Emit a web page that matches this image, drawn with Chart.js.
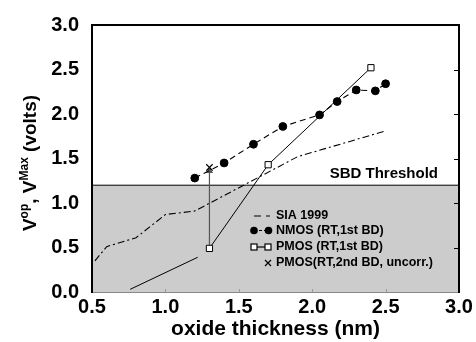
<!DOCTYPE html>
<html>
<head>
<meta charset="utf-8">
<script src="https://cdn.jsdelivr.net/npm/chart.js@4/dist/chart.umd.min.js"></script>
<style>
  html, body { margin: 0; padding: 0; background: #ffffff; }
  #c { display: block; }
</style>
</head>
<body>
<canvas id="c" width="476" height="342"></canvas>
<script>
// ---- data ----
const nmosX = [1.2, 1.4, 1.6, 1.8, 2.05, 2.17, 2.3, 2.43, 2.5];
const nmosY = [1.28, 1.45, 1.66, 1.86, 1.99, 2.14, 2.27, 2.26, 2.34];
const pmosX = [1.3, 1.7, 2.4];
const pmosY = [0.49, 1.43, 2.52];
const pmos2X = [1.3];
const pmos2Y = [1.40];
const siaX = [0.52, 0.6, 0.8, 1.0, 1.2, 1.9, 2.5];
const siaY = [0.35, 0.51, 0.61, 0.87, 0.91, 1.52, 1.81];
const segX = [0.76, 1.22];
const segY = [0.03, 0.39];
const arrowX = [1.3, 1.3];
const arrowY = [0.53, 1.36];
const threshold = 1.2;
const xRange = [0.5, 3.0];
const yRange = [0.0, 3.0];
const tickStep = 0.5;
const legendLabels = ['SIA 1999', 'NMOS (RT,1st BD)', 'PMOS (RT,1st BD)', 'PMOS(RT,2nd BD, uncorr.)'];
const xTitle = 'oxide thickness (nm)';
const thresholdLabel = 'SBD Threshold';

const pts = (xs, ys) => xs.map((x, i) => ({ x: x, y: ys[i] }));
const FONT = '"Liberation Sans", Arial, Helvetica, sans-serif';

const decor = {
  id: 'decor',
  afterDatasetsDraw(chart) {
    const ctx = chart.ctx;
    const ys = chart.scales.y;
    ctx.save();
    // threshold label
    ctx.fillStyle = '#000';
    ctx.font = 'bold 15px ' + FONT;
    ctx.textAlign = 'right';
    ctx.textBaseline = 'middle';
    ctx.fillText(thresholdLabel, 438, ys.getPixelForValue(threshold) - 11);

    // legend
    ctx.font = 'bold 12.5px ' + FONT;
    ctx.textAlign = 'left';
    const rows = [216, 230.5, 247, 263];
    const tx = 276;
    legendLabels.forEach((t, i) => ctx.fillText(t, tx, rows[i]));
    ctx.strokeStyle = '#000';
    ctx.lineWidth = 1.2;
    // SIA sample
    ctx.beginPath();
    ctx.moveTo(254, rows[0]); ctx.lineTo(261, rows[0]);
    ctx.moveTo(266, rows[0]); ctx.lineTo(270, rows[0]);
    ctx.stroke();
    // NMOS sample
    ctx.setLineDash([3, 2]);
    ctx.beginPath(); ctx.moveTo(254, rows[1]); ctx.lineTo(268.5, rows[1]); ctx.stroke();
    ctx.setLineDash([]);
    ctx.fillStyle = '#000';
    [254, 268.5].forEach(cx => { ctx.beginPath(); ctx.arc(cx, rows[1], 3.8, 0, Math.PI * 2); ctx.fill(); });
    // PMOS sample
    ctx.beginPath(); ctx.moveTo(254, rows[2]); ctx.lineTo(268, rows[2]); ctx.stroke();
    ctx.fillStyle = '#fff';
    [254, 268].forEach(cx => { ctx.fillRect(cx - 3, rows[2] - 3, 6, 6); ctx.strokeRect(cx - 3, rows[2] - 3, 6, 6); });
    // cross sample
    ctx.beginPath();
    ctx.moveTo(265, rows[3] - 3); ctx.lineTo(271, rows[3] + 3);
    ctx.moveTo(271, rows[3] - 3); ctx.lineTo(265, rows[3] + 3);
    ctx.stroke();
    ctx.restore();
  },
  afterDraw(chart) {
    const ctx = chart.ctx;
    const a = chart.chartArea;
    const xs = chart.scales.x, ys = chart.scales.y;
    ctx.save();
    // inward ticks
    ctx.strokeStyle = '#000';
    ctx.lineWidth = 1;
    for (let v = yRange[0] + tickStep; v < yRange[1] - 1e-9; v += tickStep) {
      const py = Math.round(ys.getPixelForValue(v)) + 0.5;
      ctx.beginPath(); ctx.moveTo(a.right, py); ctx.lineTo(a.right - 5, py); ctx.stroke();
    }
    ctx.strokeStyle = '#999';
    for (let v = xRange[0] + tickStep; v < xRange[1] - 1e-9; v += tickStep) {
      const px = Math.round(xs.getPixelForValue(v)) + 0.5;
      ctx.beginPath(); ctx.moveTo(px, a.bottom); ctx.lineTo(px, a.bottom - 3); ctx.stroke();
    }
    // frame
    ctx.strokeStyle = '#888';
    ctx.lineWidth = 1;
    ctx.beginPath(); ctx.moveTo(a.left, a.bottom + 0.5); ctx.lineTo(a.right, a.bottom + 0.5); ctx.stroke();
    ctx.strokeStyle = '#000';
    ctx.lineWidth = 2;
    ctx.beginPath(); ctx.moveTo(a.left, a.bottom + 1); ctx.lineTo(a.left, a.top); ctx.lineTo(a.right, a.top); ctx.lineTo(a.right, a.bottom + 1); ctx.stroke();

    // y axis title with superscripts
    ctx.fillStyle = '#000';
    ctx.translate(36, 163);
    ctx.rotate(-Math.PI / 2);
    const parts = [
      ['V', 19, 0], ['op', 12, -8], [', V', 19, 0], ['Max', 12, -8], [' (volts)', 19, 0]
    ];
    let total = 0;
    parts.forEach(p => { ctx.font = 'bold ' + p[1] + 'px ' + FONT; total += ctx.measureText(p[0]).width; });
    let x0 = -total / 2;
    ctx.textAlign = 'left';
    ctx.textBaseline = 'alphabetic';
    parts.forEach(p => {
      ctx.font = 'bold ' + p[1] + 'px ' + FONT;
      ctx.fillText(p[0], x0, p[2]);
      x0 += ctx.measureText(p[0]).width;
    });
    ctx.restore();
  }
};

new Chart(document.getElementById('c'), {
  type: 'scatter',
  data: {
    datasets: [
      { label: 'NMOS', data: pts(nmosX, nmosY), showLine: true, borderColor: '#000', borderWidth: 1.1,
        borderDash: [6, 4], pointStyle: 'circle', pointRadius: 3.9, pointBackgroundColor: '#000',
        pointBorderColor: '#000', pointBorderWidth: 1, order: 1 },
      { label: 'PMOS', data: pts(pmosX, pmosY), showLine: true, borderColor: '#000', borderWidth: 1,
        pointStyle: 'rect', pointRadius: 4.4, pointBackgroundColor: '#fff', pointBorderColor: '#000',
        pointBorderWidth: 1, order: 0 },
      { label: 'PMOS2', data: pts(pmos2X, pmos2Y), showLine: false, pointStyle: 'crossRot', pointRadius: 4.5,
        pointBorderColor: '#000', pointBorderWidth: 1.2, order: 0 },
      { label: 'arrow', data: pts(arrowX, arrowY), showLine: true, borderColor: '#555', borderWidth: 1.2,
        pointStyle: 'triangle', pointRadius: [0, 3], pointBackgroundColor: '#555', pointBorderColor: '#555',
        order: 2 },
      { label: 'SIA', data: pts(siaX, siaY), showLine: true, borderColor: '#000', borderWidth: 1.1,
        borderDash: [7, 3, 2, 3], pointRadius: 0, order: 3 },
      { label: 'seg', data: pts(segX, segY), showLine: true, borderColor: '#000', borderWidth: 1,
        pointRadius: 0, order: 3 },
      { label: 'shade', data: pts(xRange, [threshold, threshold]), showLine: true, borderColor: '#000',
        borderWidth: 1, pointRadius: 0, fill: 'origin', backgroundColor: '#cccccc', order: 10 }
    ]
  },
  options: {
    responsive: false,
    animation: false,
    devicePixelRatio: 1,
    layout: { padding: { top: 12, right: 17, left: 0, bottom: 0 } },
    plugins: { legend: { display: false }, tooltip: { enabled: false } },
    scales: {
      x: {
        type: 'linear', min: xRange[0], max: xRange[1],
        grid: { display: false, drawTicks: false },
        border: { display: false },
        ticks: { stepSize: tickStep, color: '#000', padding: 3,
          font: { family: FONT, size: 20, weight: 'bold' },
          callback: v => Number(v).toFixed(1), maxRotation: 0, autoSkip: false },
        title: { display: true, text: xTitle, color: '#000', padding: { top: 0, bottom: 0 },
          font: { family: FONT, size: 21, weight: 'bold' } },
        afterFit: s => { s.height = 50; }
      },
      y: {
        type: 'linear', min: yRange[0], max: yRange[1],
        grid: { display: false, drawTicks: false },
        border: { display: false },
        ticks: { stepSize: tickStep, color: '#000', padding: 13,
          font: { family: FONT, size: 20, weight: 'bold' },
          callback: v => Number(v).toFixed(1) },
        afterFit: s => { s.width = 92; }
      }
    }
  },
  plugins: [decor]
});
</script>
</body>
</html>
